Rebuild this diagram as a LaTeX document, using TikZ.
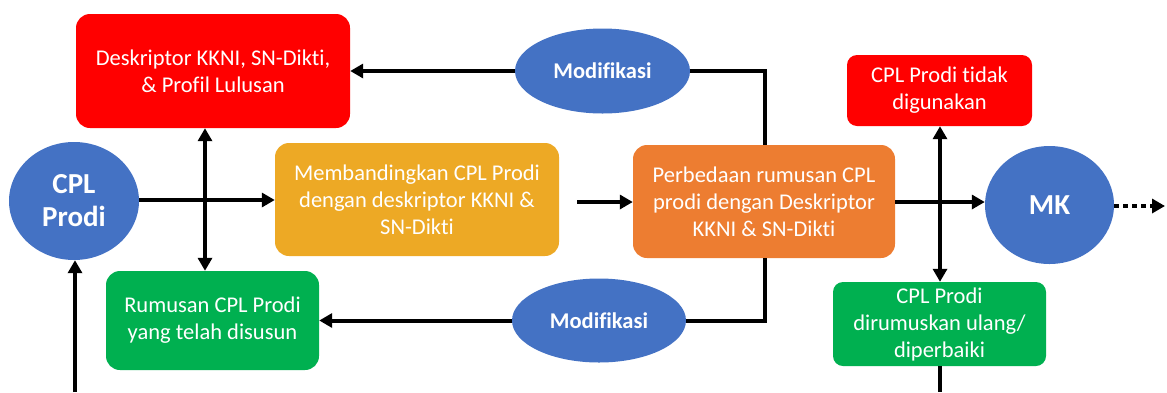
\documentclass[tikz,border=0pt]{standalone}
\usepackage{fontspec}
\setmainfont[Ligatures=NoCommon]{Carlito}
\usetikzlibrary{arrows.meta,shapes.geometric}
\definecolor{cplblue}{HTML}{4472C4}
\definecolor{cplred}{HTML}{FF0000}
\definecolor{cplgreen}{HTML}{00B050}
\definecolor{cplgold}{HTML}{EDA925}
\definecolor{cplorange}{HTML}{ED7D31}
\tikzset{
  box/.style={rounded corners=14pt, inner sep=0pt, text=white, align=center,
    font=\fontsize{22.5}{27}\selectfont},
  oval/.style={ellipse, inner sep=0pt, fill=cplblue, text=white, align=center},
  bigtext/.style={font=\fontsize{29}{33}\selectfont\bfseries},
  modtext/.style={font=\fontsize{22.5}{27}\selectfont\bfseries},
  link/.style={line width=4pt},
  arr/.style={line width=4pt, -{Triangle[width=14pt,length=13pt]}},
  dblarr/.style={line width=4pt, {Triangle[width=14pt,length=13pt]}-{Triangle[width=14pt,length=13pt]}},
}
\begin{document}
\begin{tikzpicture}[x=1pt,y=-1pt]
\useasboundingbox (0,0) rectangle (1167,392);

% process boxes
\node[box, fill=cplred, minimum width=274pt, minimum height=114pt] (desk) at (213,71)
  {Deskriptor KKNI, SN-Dikti,\\ \& Profil Lulusan};
\node[box, fill=cplgold, minimum width=284pt, minimum height=113pt] (memb) at (417,199.5)
  {Membandingkan CPL Prodi\\ dengan deskriptor KKNI \&\\ SN-Dikti};
\node[box, fill=cplgreen, minimum width=213pt, minimum height=99pt] (rum) at (212.5,320.5)
  {Rumusan CPL Prodi\\ yang telah disusun};
\node[box, fill=cplorange, minimum width=262pt, minimum height=113pt] (perb) at (764,201.5)
  {Perbedaan rumusan CPL\\ prodi dengan Deskriptor\\ KKNI \& SN-Dikti};
\node[box, rounded corners=10pt, fill=cplred, minimum width=185pt, minimum height=71pt] (tidak) at (939.5,90.5)
  {CPL Prodi tidak\\ digunakan};
\node[box, rounded corners=10pt, fill=cplgreen, minimum width=213pt, minimum height=84pt] (ulang) at (939.5,324)
  {CPL Prodi\\ dirumuskan ulang/\\ diperbaiki};

% ovals
\node[oval, bigtext, minimum width=130pt, minimum height=118pt] (cpl) at (74,201) {CPL\\ Prodi};
\node[oval, bigtext, minimum width=129pt, minimum height=118pt] (mk) at (1049.5,205) {MK};
\node[oval, modtext, minimum width=175pt, minimum height=85pt] (mod1) at (602.5,71) {Modifikasi};
\node[oval, modtext, minimum width=174pt, minimum height=84pt] (mod2) at (599,320.5) {Modifikasi};

% free ends at the bottom edge and the right edge
\coordinate (cplin) at (75,392);
\coordinate (ulangout) at (940,392);
\coordinate (next) at (1165,206);

% connectors
\draw[arr] (cpl.east |- 0,200) -- (memb.west |- 0,200);
\draw[dblarr] (desk.south -| 205,0) -- (rum.north -| 205,0);
\draw[arr] (cplin) -- (cpl.south -| cplin);
\draw[arr, shorten <=18pt] (memb.east |- 0,202) -- (perb.west |- 0,202);
\draw[link] (perb.north -| 765,0) |- (mod1.east);
\draw[arr] (mod1.west) -- (desk.east |- mod1.west);
\draw[link] (perb.south -| 765,0) |- (mod2.east);
\draw[arr] (mod2.west) -- (rum.east |- mod2.west);
\draw[arr] (perb.east |- 0,202) -- (mk.west |- 0,202);
\draw[dblarr] (tidak.south -| 940,0) -- (ulang.north -| 940,0);
\draw[link] (ulang.south -| ulangout) -- (ulangout);
\draw[line width=4pt, dash pattern=on 5pt off 4pt, -{Triangle[width=14pt,length=13pt]}] (mk.east |- next) -- (next);
\end{tikzpicture}
\end{document}
